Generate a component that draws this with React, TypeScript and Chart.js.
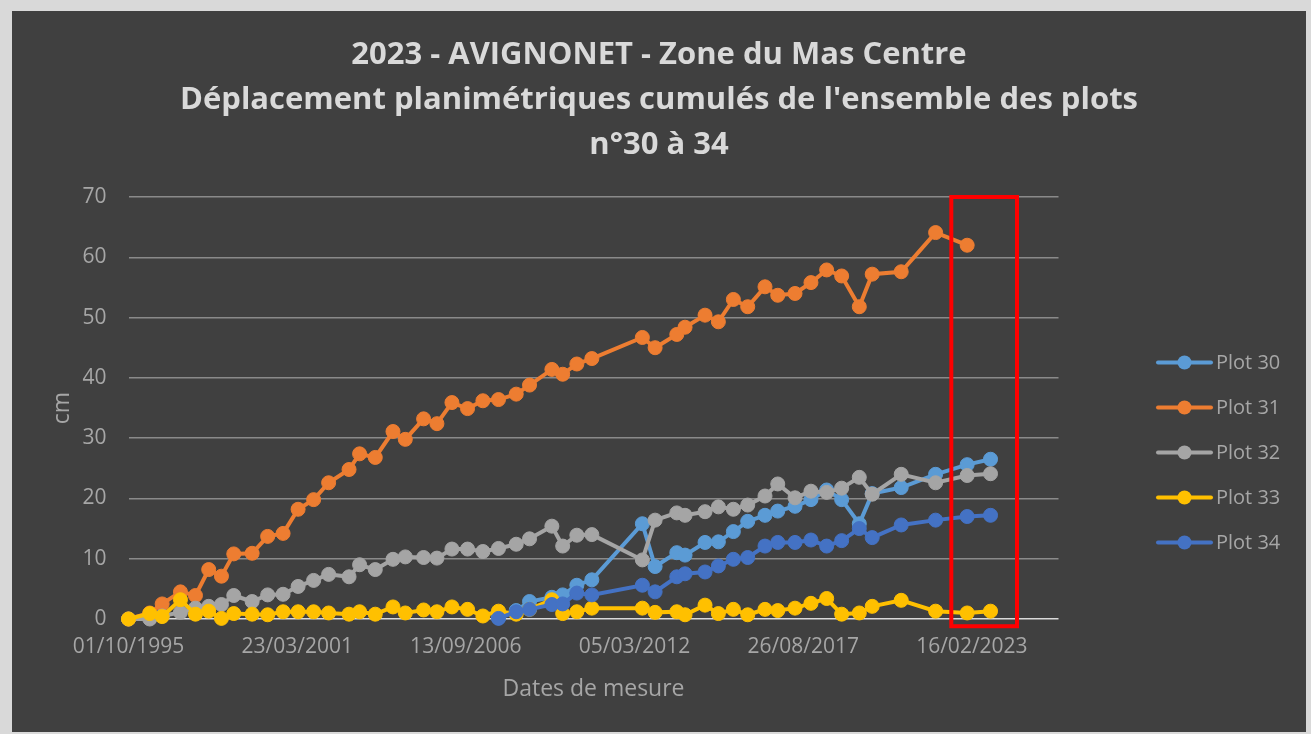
import React, { useEffect, useRef } from 'react';
import { Chart, registerables } from 'chart.js';

Chart.register(...registerables);

// ---- Data ----
const MEASURE_DATES = [
  '01/10/1995', '09/06/1996', '03/11/1996', '08/06/1997', '03/12/1997',
  '09/05/1998', '07/10/1998', '02/03/1999', '06/10/1999', '07/04/2000',
  '07/10/2000', '03/04/2001', '04/10/2001', '31/03/2002', '28/11/2002',
  '02/04/2003', '05/10/2003', '02/05/2004', '25/09/2004', '30/04/2005',
  '05/10/2005', '01/04/2006', '03/10/2006', '03/04/2007', '05/10/2007',
  '02/05/2008', '07/10/2008', '29/06/2009', '04/11/2009', '21/04/2010',
  '16/10/2010', '06/06/2012', '04/11/2012', '19/07/2013', '25/10/2013',
  '19/06/2014', '24/11/2014', '21/05/2015', '07/11/2015', '30/05/2016',
  '28/10/2016', '21/05/2017', '26/11/2017', '31/05/2018', '25/11/2018',
  '22/06/2019', '22/11/2019', '31/10/2020', '13/12/2021', '22/12/2022',
  '25/09/2023',
];

const PLOT_30 = [
  null, null, null, null, null, null, null, null, null, null,
  null, null, null, null, null, null, null, null, null, null,
  null, null, null, null, 0.2, 1.4, 2.9, 3.6, 4.0, 5.6,
  6.5, 15.8, 8.7, 11.0, 10.6, 12.7, 12.8, 14.5, 16.2, 17.2,
  17.9, 18.7, 19.8, 21.4, 19.8, 15.8, 20.8, 21.8, 24.0, 25.6,
  26.5,
];

const PLOT_31 = [
  0, 1.0, 2.5, 4.5, 3.9, 8.2, 7.1, 10.8, 10.9, 13.7,
  14.2, 18.2, 19.8, 22.6, 24.8, 27.4, 26.8, 31.1, 29.8, 33.2,
  32.4, 35.9, 34.9, 36.2, 36.4, 37.3, 38.8, 41.4, 40.6, 42.3,
  43.2, 46.7, 45.0, 47.2, 48.4, 50.4, 49.3, 53.0, 51.8, 55.1,
  53.7, 54.0, 55.8, 57.9, 56.9, 51.8, 57.2, 57.6, 64.1, 62.0,
  null,
];

const PLOT_32 = [
  0, 0.0, 0.5, 1.1, 1.8, 2.1, 2.4, 3.9, 2.9, 4.0,
  4.1, 5.4, 6.4, 7.4, 7.0, 9.0, 8.2, 9.9, 10.3, 10.2,
  10.1, 11.6, 11.6, 11.2, 11.7, 12.4, 13.3, 15.4, 12.1, 13.9,
  14.0, 9.8, 16.4, 17.6, 17.2, 17.8, 18.6, 18.2, 18.9, 20.4,
  22.4, 20.1, 21.2, 21.0, 21.7, 23.5, 20.7, 24.0, 22.6, 23.8,
  24.1,
];

const PLOT_33 = [
  0, 0.9, 0.4, 3.2, 0.8, 1.3, 0.1, 0.9, 0.8, 0.7,
  1.2, 1.2, 1.2, 1.0, 0.8, 1.2, 0.8, 2.0, 1.0, 1.5,
  1.2, 2.0, 1.6, 0.5, 1.3, 0.8, 1.6, 3.2, 0.9, 1.2,
  1.8, 1.8, 1.1, 1.2, 0.7, 2.3, 0.9, 1.6, 0.7, 1.6,
  1.4, 1.8, 2.6, 3.4, 0.8, 1.0, 2.1, 3.1, 1.3, 1.0,
  1.3,
];

const PLOT_34 = [
  null, null, null, null, null, null, null, null, null, null,
  null, null, null, null, null, null, null, null, null, null,
  null, null, null, null, 0.1, 1.2, 1.6, 2.4, 2.5, 4.3,
  4.0, 5.6, 4.5, 7.0, 7.5, 7.8, 8.8, 9.9, 10.2, 12.1,
  12.7, 12.7, 13.1, 12.1, 13.0, 15.0, 13.5, 15.6, 16.4, 17.0,
  17.2,
];

const SERIES_LABELS = ['Plot 30', 'Plot 31', 'Plot 32', 'Plot 33', 'Plot 34'];
const SERIES_VALUES = [PLOT_30, PLOT_31, PLOT_32, PLOT_33, PLOT_34];
const SERIES_COLORS = ['#5B9BD5', '#ED7D31', '#A5A5A5', '#FFC000', '#4472C4'];

const X_TICK_LABELS = ['01/10/1995', '23/03/2001', '13/09/2006', '05/03/2012', '26/08/2017', '16/02/2023'];
const X_AXIS_START = '01/10/1995';
const X_AXIS_END = '09/12/2025';
const Y_MIN = 0;
const Y_MAX = 70;
const Y_STEP = 10;

const TITLE_LINES = [
  '2023 - AVIGNONET - Zone du Mas Centre',
  "Déplacement planimétriques cumulés de l'ensemble des plots",
  'n°30 à 34',
];

// Highlight frame (annotation) expressed in axis units
const HIGHLIGHT_FROM = '17/06/2022';
const HIGHLIGHT_TO = '04/08/2024';
const HIGHLIGHT_TOP = 70;
const HIGHLIGHT_BOTTOM = -1.2;

// ---- helpers ----
function dayOf(s: string): number {
  const [d, m, y] = s.split('/').map(Number);
  return Date.UTC(y, m - 1, d) / 86400000;
}
function fmt(day: number): string {
  const dt = new Date(Math.round(day) * 86400000);
  const dd = String(dt.getUTCDate()).padStart(2, '0');
  const mm = String(dt.getUTCMonth() + 1).padStart(2, '0');
  return `${dd}/${mm}/${dt.getUTCFullYear()}`;
}

const FONT = "'Open Sans', 'DejaVu Sans', sans-serif";
const TEXT_GRAY = '#a6a6a6';

const highlightPlugin = {
  id: 'highlightFrame',
  afterDatasetsDraw(chart: any) {
    const { ctx, scales } = chart;
    const x0 = scales.x.getPixelForValue(dayOf(HIGHLIGHT_FROM));
    const x1 = scales.x.getPixelForValue(dayOf(HIGHLIGHT_TO));
    const y0 = scales.y.getPixelForValue(HIGHLIGHT_TOP);
    const y1 = scales.y.getPixelForValue(HIGHLIGHT_BOTTOM);
    ctx.save();
    ctx.strokeStyle = '#ff0000';
    ctx.lineWidth = 4;
    ctx.strokeRect(x0, y0, x1 - x0, y1 - y0);
    ctx.restore();
  },
};

const sideLegendPlugin = {
  id: 'sideLegend',
  afterDraw(chart: any) {
    const { ctx, chartArea } = chart;
    const datasets = chart.data.datasets;
    const n = datasets.length;
    const gap = 45;
    const midY = (chartArea.top + chartArea.bottom) / 2 + 44.5;
    const x0 = chartArea.right + 97.5;
    const lineLen = 57;
    ctx.save();
    ctx.font = `20px ${FONT}`;
    ctx.textBaseline = 'middle';
    ctx.textAlign = 'left';
    datasets.forEach((ds: any, i: number) => {
      const y = midY + (i - (n - 1) / 2) * gap;
      ctx.strokeStyle = ds.borderColor;
      ctx.lineWidth = 4;
      ctx.lineCap = 'round';
      ctx.beginPath();
      ctx.moveTo(x0 + 2, y);
      ctx.lineTo(x0 + lineLen - 2, y);
      ctx.stroke();
      ctx.fillStyle = ds.borderColor;
      ctx.beginPath();
      ctx.arc(x0 + lineLen / 2, y, 7, 0, Math.PI * 2);
      ctx.fill();
      ctx.fillStyle = TEXT_GRAY;
      ctx.fillText(ds.label, x0 + lineLen + 3, y + 1);
    });
    ctx.restore();
  },
};

export default function App() {
  const canvasRef = useRef<HTMLCanvasElement | null>(null);

  useEffect(() => {
    document.body.style.margin = '0';
    const canvas = canvasRef.current;
    if (!canvas) return;
    const xs = MEASURE_DATES.map(dayOf);
    const datasets = SERIES_LABELS.map((label, si) => {
      const values = SERIES_VALUES[si];
      const data: { x: number; y: number }[] = [];
      values.forEach((v, i) => {
        if (v !== null && v !== undefined) data.push({ x: xs[i], y: v as number });
      });
      return {
        label,
        data,
        yAxisID: 'y',
        borderColor: SERIES_COLORS[si],
        backgroundColor: SERIES_COLORS[si],
        pointBackgroundColor: SERIES_COLORS[si],
        pointBorderColor: SERIES_COLORS[si],
        borderWidth: 4,
        pointRadius: 7,
        pointBorderWidth: 1,
        tension: 0,
        fill: false,
        clip: false,
        order: SERIES_LABELS.length - si,
      };
    });

    const chart = new Chart(canvas, {
      type: 'line',
      data: { datasets },
      options: {
        responsive: false,
        animation: false,
        devicePixelRatio: 1,
        events: [],
        layout: { padding: 0 },
        plugins: {
          legend: { display: false },
          tooltip: { enabled: false },
          title: {
            display: true,
            text: TITLE_LINES,
            color: '#d9d9d9',
            font: { family: FONT, size: 31, weight: 'bold', lineHeight: '45px' },
            padding: { top: 22, bottom: 29 },
          },
        },
        scales: {
          x: {
            type: 'linear',
            min: dayOf(X_AXIS_START),
            max: dayOf(X_AXIS_END),
            afterBuildTicks: (scale: any) => {
              scale.ticks = X_TICK_LABELS.map((l) => ({ value: dayOf(l) }));
            },
            afterFit: (scale: any) => {
              scale.height = 113;
            },
            ticks: {
              callback: (v: any) => fmt(Number(v)),
              color: TEXT_GRAY,
              font: { family: FONT, size: 21 },
              padding: 15.5,
              maxRotation: 0,
              autoSkip: false,
            },
            grid: { display: false, drawTicks: false },
            border: { display: false },
            title: {
              display: true,
              text: 'Dates de mesure',
              color: TEXT_GRAY,
              font: { family: FONT, size: 23 },
              padding: { top: 0, bottom: 29.2 },
            },
          },
          y: {
            min: Y_MIN,
            max: Y_MAX,
            afterFit: (scale: any) => {
              scale.width = 116.5;
            },
            ticks: {
              stepSize: Y_STEP,
              color: TEXT_GRAY,
              font: { family: FONT, size: 21 },
              padding: 22,
            },
            grid: {
              color: (ctx: any) => (ctx.tick && ctx.tick.value === 0 ? '#d9d9d9' : '#8a8a8a'),
              lineWidth: 1.5,
              drawTicks: false,
            },
            border: { display: false },
            title: {
              display: true,
              text: 'cm',
              color: TEXT_GRAY,
              font: { family: FONT, size: 23 },
              padding: { top: 36.2, bottom: 0 },
            },
          },
          legendSpace: {
            type: 'linear',
            position: 'right',
            display: true,
            afterFit: (scale: any) => {
              scale.width = 247.5;
            },
            ticks: { display: false },
            grid: { display: false, drawTicks: false },
            border: { display: false },
          },
        },
      },
      plugins: [highlightPlugin, sideLegendPlugin],
    } as any);

    return () => chart.destroy();
  }, []);

  return (
    <div style={{ width: 1311, height: 734, background: '#d9d9d9', position: 'relative', overflow: 'hidden' }}>
      <div
        style={{
          position: 'absolute',
          left: 12,
          top: 11,
          width: 1294,
          height: 721,
          background: '#404040',
        }}
      >
        <canvas ref={canvasRef} width={1294} height={721} style={{ display: 'block' }} />
      </div>
    </div>
  );
}
